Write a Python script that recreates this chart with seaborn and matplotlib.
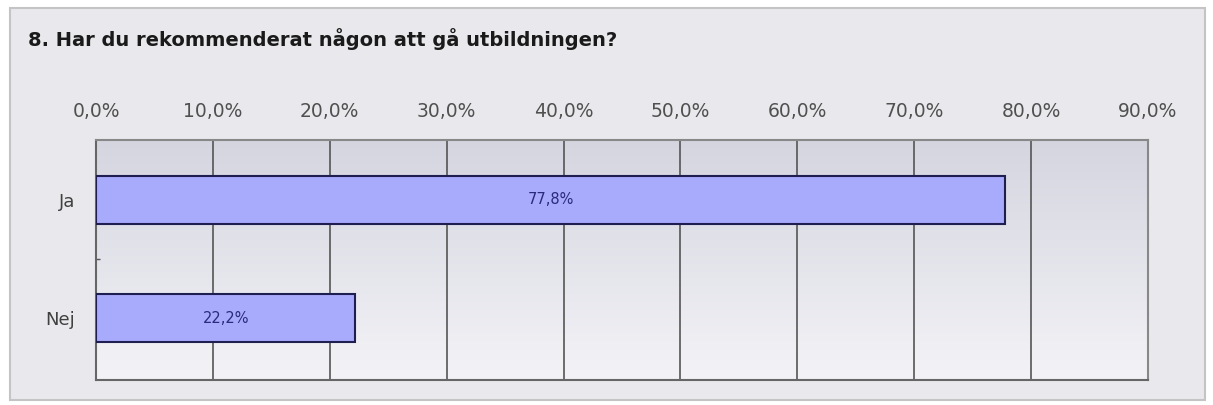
import numpy as np
import matplotlib
matplotlib.use("Agg")
import matplotlib.pyplot as plt
from matplotlib.patches import Rectangle
from matplotlib.colors import LinearSegmentedColormap
import seaborn as sns
import pandas as pd

categories = ["Ja", "Nej"]
values = [77.8, 22.2]
tick_values = [0, 10, 20, 30, 40, 50, 60, 70, 80, 90]
title = "8. Har du rekommenderat någon att gå utbildningen?"

sns.set_theme(style="white")
plt.rcParams['font.family'] = ['DejaVu Sans']

fig = plt.figure(figsize=(12.13, 4.05), dpi=100)
fig.patch.set_facecolor("white")
W, H = 1213, 405
# outer panel
fig.patches.append(Rectangle((10 / W, 1 - 400 / H), (1205 - 10) / W, (400 - 8) / H,
                             transform=fig.transFigure, facecolor="#e9e9ed",
                             edgecolor="#c4c4c4", linewidth=1.5, zorder=-5))

ax = fig.add_axes([96 / W, 1 - 380 / H, (1148 - 96) / W, (380 - 140) / H])
ax.set_zorder(2)

df = pd.DataFrame({"cat": categories, "val": values})
sns.barplot(data=df, x="val", y="cat", orient="h", color="#a8aafc",
            edgecolor="#1e1e50", linewidth=1.5, width=0.4, saturation=1, ax=ax, zorder=3)

# gradient background
grad = np.linspace(0, 1, 256).reshape(-1, 1)
cmap = LinearSegmentedColormap.from_list("g", ["#d4d5df", "#f3f3f7"])
ax.imshow(grad, aspect="auto", cmap=cmap, extent=[0, 1, 0, 1], transform=ax.transAxes,
          zorder=0, origin="upper")

ax.set_xlim(0, 90)
ax.set_ylim(1.525, -0.508)
ax.set_xticks(tick_values)
ax.set_xticklabels([f"{v:.1f}%".replace(".", ",") for v in tick_values], fontsize=13.5,
                   color="#505050")
ax.xaxis.tick_top()
ax.tick_params(axis="x", length=0, pad=14)
ax.tick_params(axis="y", length=0, pad=15, labelsize=13, labelcolor="#404040")
ax.set_yticks([0.5], minor=True)
ax.tick_params(axis="y", which="minor", length=3, direction="in", color="#555555", left=True)
ax.set_xlabel("")
ax.set_ylabel("")
ax.grid(axis="x", color="#555555", linewidth=1.2, zorder=1)
ax.set_axisbelow(True)
for name, s in ax.spines.items():
    s.set_visible(True)
    s.set_color("#666666" if name in ("left", "bottom") else "#888888")
    s.set_linewidth(1.5)

for i, v in enumerate(values):
    ax.text(v / 2, i, f"{v:.1f}%".replace(".", ","), ha="center", va="center",
            fontsize=10.5, color="#2a2a7a", zorder=5)

fig.text(28 / W, 1 - 39 / H, title, fontsize=14, fontweight="bold", color="#1a1a1a",
         ha="left", va="center")

fig.savefig("out.png", dpi=100)
